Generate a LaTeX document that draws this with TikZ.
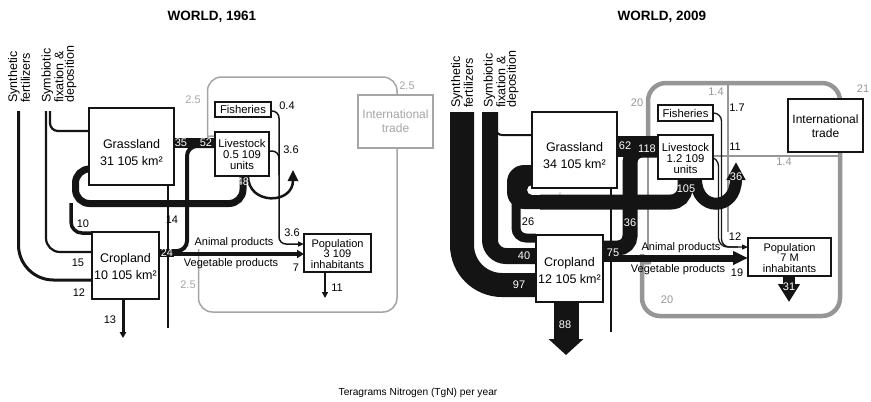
\documentclass[tikz,border=0pt]{standalone}
\usepackage{fontspec}
\setmainfont{Liberation Sans}
\usetikzlibrary{arrows.meta}
\definecolor{gA}{RGB}{165,165,165}
\definecolor{gB}{RGB}{150,150,150}
\definecolor{ink}{RGB}{20,20,20}
\begin{document}
\begin{tikzpicture}[x=1pt,y=-1pt,
  box/.style={draw=ink,line width=1.5pt,fill=white,inner sep=0pt},
  gbox/.style={draw=gA,line width=1.5pt,fill=white,inner sep=0pt},
  bigtxt/.style={inner sep=0pt,align=center,font=\fontsize{12.5}{17}\selectfont},
  midtxt/.style={inner sep=0pt,align=center,font=\fontsize{12}{14}\selectfont},
  smalltxt/.style={inner sep=0pt,align=center,font=\fontsize{11.3}{11}\selectfont},
  poptxt/.style={inner sep=0pt,align=center,font=\fontsize{11}{10.5}\selectfont},
  num/.style={inner sep=0pt,font=\fontsize{11}{12}\selectfont},
  wnum/.style={num,text=white},
  gnum/.style={num,text=gA},
  hnum/.style={num,text=gB},
  prod/.style={inner sep=0pt,font=\fontsize{11}{12}\selectfont},
  src/.style={rotate=90,anchor=west,inner sep=0pt,align=left,font=\fontsize{12.5}{10.5}\selectfont},
  ttl/.style={inner sep=0pt,font=\bfseries\fontsize{13.5}{15}\selectfont},
]
\useasboundingbox (0,0) rectangle (871,402);

% ================= 1961 =================
\node[ttl] (t1) at (212,17) {WORLD, 1961};
\node[src] (syn1) at (19,103) {Synthetic\\fertilizers};
\node[src] (sym1) at (59,103) {Symbiotic\\fixation \&\\deposition};

% gray trade loops
\draw[gA,line width=1.5pt,rounded corners=14] (215,136) .. controls (207.5,136) .. (207.5,126) -- (207.5,77) -- (397,77) -- (397,95);
\draw[gA,line width=1.5pt,rounded corners=14] (397,148) -- (397,312) -- (198.5,312) -- (198.5,263) .. controls (198.5,256) .. (206,255);

% thin grassland line
\draw[ink,line width=1.2pt] (168,185) -- (168,328);
% sources
\draw[ink,line width=3pt,rounded corners=35] (18.5,111) -- (18.5,280) -- (92,280);
\draw[ink,line width=2.2pt,rounded corners=14] (46,111) -- (46,252) -- (92,252);
\draw[ink,line width=2.2pt,rounded corners=8] (50,111) -- (50,131) -- (89,131);
% grassland -> livestock
\fill[ink] (174,138) rectangle (215,148);
% cropland -> livestock
\draw[ink,line width=4pt,rounded corners=10] (159,251) -- (187,251) -- (187,146) -- (215,146);
% cropland -> population
\draw[ink,line width=3.5pt,-{Triangle[length=7pt,width=8pt]}] (159,254) -- (304,254);
% livestock -> grassland / cropland loop
\draw[ink,line width=7pt,rounded corners=14] (243,176) -- (243,203.5) -- (75.5,203.5) -- (75.5,169) -- (89,169);
\draw[ink,line width=3.5pt,rounded corners=11] (71,203) -- (71,233) -- (92,233);
% livestock U-turn
\draw[ink,line width=2.5pt,-{Triangle[length=11pt,width=10pt]}] (248,176) .. controls (248,205) and (293,205) .. (293,170);
% fisheries / livestock -> population
\draw[ink,line width=1.5pt,rounded corners=7,-{Triangle[length=6pt,width=5pt]}] (271,111) -- (279,111) -- (279,244) -- (304,244);
\draw[ink,line width=1.5pt,rounded corners=7] (269,151) -- (279,151) -- (279,175);
% outputs
\draw[ink,line width=2.5pt,-{Triangle[length=6pt,width=6pt]}] (325,272) -- (325,298);
\draw[ink,line width=3pt,-{Triangle[length=6pt,width=6.5pt]}] (123,299) -- (123,338);

% boxes
\node[box,minimum width=85pt,minimum height=77pt] (gr1) at (131.5,146.5) {};
\node[bigtxt] (gr1t) at (131.5,153) {Grassland\\31 105 km²};
\node[box,minimum width=67pt,minimum height=67pt] (cr1) at (125.5,265.5) {};
\node[bigtxt] (cr1t) at (125.5,267) {Cropland\\10 105 km²};
\node[box,minimum width=54pt,minimum height=44pt] (ls1) at (242,154) {};
\node[smalltxt] (ls1t) at (242,154.5) {Livestock\\0.5 109\\units};
\node[box,line width=1.7pt,minimum width=56pt,minimum height=15pt] (fi1) at (243,109.5) {};
\node[smalltxt] (fi1t) at (243,109.5) {Fisheries};
\node[box,minimum width=67pt,minimum height=38pt] (po1) at (337.5,253) {};
\node[poptxt] (po1t) at (337.5,254) {Population\\3 109\\inhabitants};
\node[gbox,minimum width=75pt,minimum height=53pt] (tr1) at (395.5,121.5) {};
\node[midtxt,text=gA] (tr1t) at (395.5,121) {International\\trade};

% labels
\node[gnum] at (193,100) {2.5};
\node[gnum] at (407,86) {2.5};
\node[gnum] at (188,285) {2.5};
\node[num] at (287,106) {0.4};
\node[num] at (291,150) {3.6};
\node[num] at (292,233) {3.6};
\node[num] at (296,268) {7};
\node[num] at (337,288) {11};
\node[wnum] at (181,143) {35};
\node[wnum] at (206,143) {52};
\node[wnum] at (243,182) {48};
\node[num] at (172,220) {14};
\node[num] at (83,224) {10};
\node[num] at (78,263) {15};
\node[num] at (79,293) {12};
\node[num] at (110,320) {13};
\node[wnum,fill=ink,inner sep=0.6pt] at (167,253) {24};
\node[prod] at (234,243) {Animal products};
\node[prod] at (231,264) {Vegetable products};

% ================= 2009 =================
\node[ttl] (t2) at (662,17) {WORLD, 2009};
\node[src] (syn2) at (462,108) {Synthetic\\fertilizers};
\node[src] (sym2) at (501,108) {Symbiotic\\fixation \&\\deposition};

% gray trade loops
\draw[gB,line width=4.5pt,rounded corners=18] (658,138) .. controls (648,138) .. (648,124) -- (648,83) -- (840,83) -- (840,99);
\draw[gB,line width=4.5pt,rounded corners=18] (840,152) -- (840,316) -- (642,316) -- (642,272) .. controls (642,263) .. (651,262);
\draw[gB,line width=1.2pt] (648,138) -- (648,250);
\draw[gB,line width=1.2pt] (728,83) -- (728,232);
\draw[gB,line width=1.2pt] (713,156) -- (840,156);

% thin grassland line
\draw[ink,line width=1.2pt] (611,188) -- (611,332);
% sources
\draw[ink,line width=24pt,rounded corners=40] (462,112) -- (462,285) -- (536,285);
\draw[ink,line width=16pt,rounded corners=16] (490,112) -- (490,256) -- (536,256);
\draw[ink,line width=2pt,rounded corners=6] (496,126) -- (496,135) -- (532,135);
% grassland -> livestock
\fill[ink] (617,136) rectangle (658,157);
% cropland -> livestock
\draw[ink,line width=15pt,rounded corners=12] (603,248) -- (630,248) -- (630,150) -- (658,150);
% cropland -> population
\draw[ink,line width=7pt,-{Triangle[length=15pt,width=13pt]}] (603,258) -- (748,258);
% livestock -> grassland loop (C shape)
\fill[ink,rounded corners=17] (534,165) -- (507,165) -- (507,209) -- (560,209) [rounded corners=0] -- (560,195) [rounded corners=5] -- (527,195) -- (527,185) [sharp corners] -- (534,185) -- cycle;
\draw[ink,line width=15pt,rounded corners=14] (685,179) -- (685,202) -- (540,202);
% livestock -> cropland branch
\draw[ink,line width=9pt,rounded corners=10] (516,203) -- (516,238) -- (536,238);
% livestock U-turn
\draw[ink,line width=12pt,-{Triangle[length=18pt,width=18pt]}] (696,179) .. controls (696,212) and (736,212) .. (736,162);
% fisheries / livestock -> population
\draw[ink,line width=1.3pt,rounded corners=8,-{Triangle[length=6pt,width=5pt]}] (713,113) -- (721.5,113) -- (721.5,247) -- (748,247);
\draw[ink,line width=1.3pt,rounded corners=9] (713,157) -- (718.5,157) -- (718.5,247) -- (738,247);
% outputs
\draw[ink,line width=12pt,-{Triangle[length=18pt,width=21pt]}] (789,276) -- (789,302);
\draw[ink,line width=25pt,-{Triangle[length=16pt,width=34pt]}] (566,302) -- (566,355);

% boxes
\node[box,minimum width=85pt,minimum height=76pt] (gr2) at (574.5,150) {};
\node[bigtxt] (gr2t) at (574.5,156) {Grassland\\34 105 km²};
\node[box,minimum width=67pt,minimum height=67pt] (cr2) at (569.5,268.5) {};
\node[bigtxt] (cr2t) at (569.5,271) {Cropland\\12 105 km²};
\node[box,minimum width=55pt,minimum height=44pt] (ls2) at (685.5,157) {};
\node[smalltxt] (ls2t) at (685.5,158) {Livestock\\1.2 109\\units};
\node[box,line width=1.7pt,minimum width=55pt,minimum height=16pt] (fi2) at (685.5,113) {};
\node[smalltxt] (fi2t) at (685.5,113) {Fisheries};
\node[box,minimum width=83pt,minimum height=38pt] (po2) at (789.5,257) {};
\node[poptxt] (po2t) at (789.5,258) {Population\\7 M\\inhabitants};
\node[box,minimum width=75pt,minimum height=53pt] (tr2) at (825.5,125.5) {};
\node[midtxt] (tr2t) at (825.5,126.5) {International\\trade};

% labels
\node[hnum] at (637,103) {20};
\node[hnum] at (716,92) {1.4};
\node[hnum] at (784,162) {1.4};
\node[hnum] at (863,89) {21};
\node[hnum] at (667,300) {20};
\node[num] at (737,108) {1.7};
\node[num] at (735,147) {11};
\node[num] at (735,237) {12};
\node[num] at (737,273) {19};
\node[wnum] at (625,146) {62};
\node[wnum] at (647,149) {118};
\node[wnum] at (686,189) {105};
\node[wnum] at (736,177) {36};
\node[wnum] at (630,223) {36};
\node[wnum] at (613,253) {75};
\node[num] at (528,222) {26};
\node[wnum] at (524,256) {40};
\node[wnum] at (519,285) {97};
\node[wnum] at (565,325) {88};
\node[wnum] at (789,287) {31};
\node[prod] at (681,248) {Animal products};
\node[prod] at (678,270) {Vegetable products};

% caption
\node[inner sep=0pt,font=\fontsize{10.2}{12}\selectfont] (cap) at (418,393) {Teragrams Nitrogen (TgN) per year};
\end{tikzpicture}
\end{document}
